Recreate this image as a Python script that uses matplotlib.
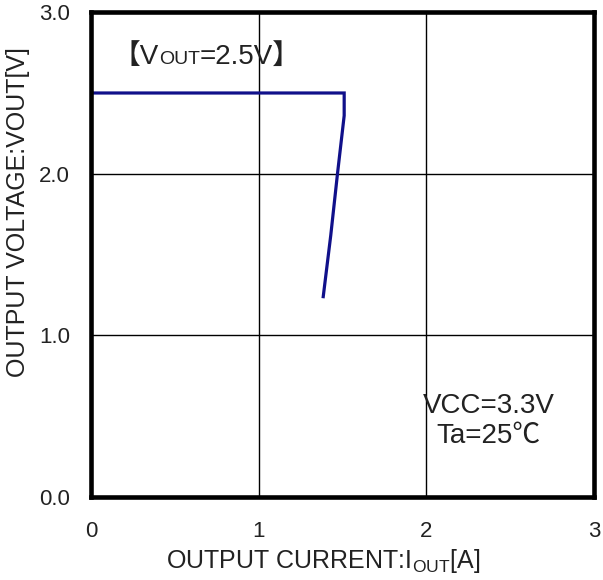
import matplotlib
matplotlib.use("Agg")
import matplotlib.pyplot as plt

# output current [A] vs output voltage [V]
iout = [0.0, 1.51, 1.51, 1.47, 1.43, 1.385]
vout = [2.5, 2.5, 2.36, 2.0, 1.62, 1.24]

xticks = [0, 1, 2, 3]
yticks = [0.0, 1.0, 2.0, 3.0]

fonts = ['Liberation Sans', 'Noto Sans CJK JP', 'DejaVu Sans']
plt.rcParams['font.family'] = fonts
plt.rcParams['mathtext.fontset'] = 'custom'
plt.rcParams['mathtext.rm'] = 'Liberation Sans'

fig = plt.figure(figsize=(6.03, 5.80), dpi=100)
ax = fig.add_axes([0.151, 0.143, 0.834, 0.836])

ax.plot(iout, vout, color='#10108a', lw=2.3, solid_joinstyle='miter')

ax.set_xlim(0, 3)
ax.set_ylim(0, 3)
ax.set_xticks(xticks)
ax.set_yticks(yticks)
ax.set_xticklabels([str(v) for v in xticks])
ax.set_yticklabels(['%.1f' % v for v in yticks])
ax.tick_params(length=0, labelsize=16, colors='#222222')
ax.tick_params(axis='x', pad=17)
ax.tick_params(axis='y', pad=15)
ax.grid(True, color='black', lw=1.0)
for s in ax.spines.values():
    s.set_linewidth(3.3)
    s.set_zorder(5)

ax.set_xlabel(r'OUTPUT CURRENT:I$_{\mathrm{OUT}}$[A]', fontsize=18, color='#222222')
ax.set_ylabel('OUTPUT VOLTAGE:VOUT[V]', fontsize=18, color='#222222')
ax.xaxis.set_label_coords(0.461, -0.103)
ax.yaxis.set_label_coords(-0.122, 0.588)

# 【VOUT=2.5V】 with small-caps OUT
ty = 2.68
t1 = ax.text(0.13, ty, '【V', fontsize=20, va='baseline', ha='left', color='#222222')
t2 = ax.annotate('OUT', xy=(1, ty), xycoords=(t1, 'data'), fontsize=14,
                 va='baseline', ha='left', color='#222222')
ax.annotate('=2.5V】', xy=(1, ty), xycoords=(t2, 'data'), fontsize=20,
            va='baseline', ha='left', color='#222222')

ax.text(2.37, 0.47, 'VCC=3.3V\nTa=25℃', fontsize=20, ha='center', va='center',
        linespacing=1.2, color='#222222')

fig.savefig('out.png', dpi=100)
